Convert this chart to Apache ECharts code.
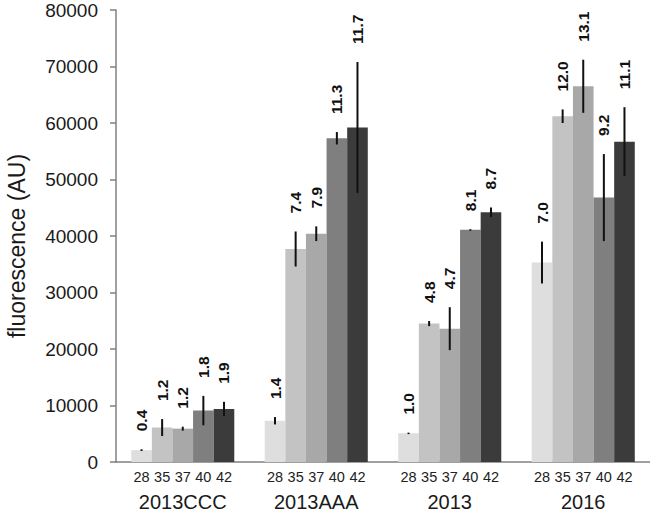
<!DOCTYPE html>
<html>
<head>
<meta charset="utf-8">
<script src="https://cdn.jsdelivr.net/npm/echarts@6/dist/echarts.min.js"></script>
<style>
html,body{margin:0;padding:0;background:#fff;}
#chart{width:650px;height:512px;}
</style>
</head>
<body>
<div id="chart"></div>
<script>
// ---- data ----
const groups = ['2013CCC', '2013AAA', '2013', '2016'];
const temps = ['28', '35', '37', '40', '42'];

const mean28 = [2100, 7300, 5100, 35300];
const mean35 = [6100, 37700, 24500, 61200];
const mean37 = [5900, 40400, 23600, 66500];
const mean40 = [9100, 57300, 41100, 46800];
const mean42 = [9400, 59200, 44200, 56700];

const err28 = [150, 650, 100, 3700];
const err35 = [1500, 3100, 450, 1200];
const err37 = [350, 1300, 3800, 4700];
const err40 = [2600, 1100, 100, 7700];
const err42 = [1250, 11600, 850, 6100];

const lab28 = ['0.4', '1.4', '1.0', '7.0'];
const lab35 = ['1.2', '7.4', '4.8', '12.0'];
const lab37 = ['1.2', '7.9', '4.7', '13.1'];
const lab40 = ['1.8', '11.3', '8.1', '9.2'];
const lab42 = ['1.9', '11.7', '8.7', '11.1'];

const yTicks = [0, 10000, 20000, 30000, 40000, 50000, 60000, 70000, 80000];

// ---- build ----
const means = [mean28, mean35, mean37, mean40, mean42];
const errs = [err28, err35, err37, err40, err42];
const labs = [lab28, lab35, lab37, lab40, lab42];
const colors = ['#dedede', '#c3c3c3', '#a8a8a8', '#7f7f7f', '#3b3b3b'];
const CAT_GAP = 0.228;
const FONT = '"Liberation Sans", Arial, sans-serif';

function buildSeries(pxPerUnit) {
  const series = [];
  temps.forEach((t, i) => {
    series.push({
      type: 'bar',
      name: t,
      barGap: '0%',
      barCategoryGap: (CAT_GAP * 100) + '%',
      itemStyle: { color: colors[i] },
      z: 2,
      label: {
        show: pxPerUnit > 0,
        position: 'top',
        rotate: 90,
        align: 'left',
        verticalAlign: 'middle',
        fontFamily: FONT,
        fontWeight: 'bold',
        fontSize: 15.5,
        color: '#111',
        offset: [1, 0]
      },
      data: means[i].map((m, k) => ({
        value: m,
        label: {
          formatter: labs[i][k],
          distance: errs[i][k] * pxPerUnit + 17
        }
      }))
    });
  });
  temps.forEach((t, i) => {
    series.push({
      type: 'custom',
      name: 'err' + t,
      z: 5,
      clip: false,
      data: groups.map((g, k) => [k, means[i][k], errs[i][k]]),
      encode: { x: 0, y: 1 },
      renderItem: function (params, api) {
        const k = api.value(0);
        const m = api.value(1);
        const e = api.value(2);
        const band = api.size([1, 0])[0];
        const barW = band * (1 - CAT_GAP) / 5;
        const cx = api.coord([k, 0])[0] + (i - 2) * barW;
        const base = api.coord([k, 0])[1];
        const yTop = api.coord([k, m + e])[1];
        const yBot = api.coord([k, m - e])[1];
        return {
          type: 'group',
          children: [
            {
              type: 'line',
              shape: { x1: cx, y1: yTop, x2: cx, y2: Math.max(yBot, yTop + 1.5) },
              style: { stroke: '#111', lineWidth: 2 }
            },
            {
              type: 'text',
              x: cx,
              y: base + 15,
              style: {
                text: t,
                font: '14.5px ' + FONT,
                fill: '#222',
                align: 'center',
                verticalAlign: 'middle'
              }
            }
          ]
        };
      }
    });
  });
  return series;
}

const chart = echarts.init(document.getElementById('chart'), null, { renderer: 'svg' });
const baseOption = {
  backgroundColor: '#fff',
  animation: false,
  grid: { left: 116, right: 0, top: 10, bottom: 50, containLabel: false, outerBoundsMode: 'none' },
  xAxis: {
    type: 'category',
    data: groups,
    axisLine: { show: true, lineStyle: { color: '#808080', width: 1.5 } },
    axisTick: { show: false },
    axisLabel: { margin: 29.5, fontSize: 20, lineHeight: 20, color: '#1a1a1a', fontFamily: FONT },
    splitLine: { show: false }
  },
  yAxis: {
    type: 'value',
    min: 0,
    max: 80000,
    interval: 10000,
    name: 'fluorescence (AU)',
    nameLocation: 'middle',
    nameGap: 88,
    nameTextStyle: {
      fontSize: 23,
      lineHeight: 22,
      color: '#1a1a1a',
      fontFamily: FONT,
      padding: [0, 20, 0, 0]
    },
    axisLine: { show: true, lineStyle: { color: '#808080', width: 1.5 } },
    axisTick: { show: true, inside: false, length: 6, lineStyle: { color: '#808080', width: 1.5 } },
    axisLabel: {
      margin: 18,
      fontSize: 19,
      lineHeight: 19,
      color: '#1a1a1a',
      fontFamily: FONT,
      formatter: function (v) { return yTicks.indexOf(v) >= 0 ? String(v) : ''; }
    },
    splitLine: { show: false }
  },
  series: buildSeries(0)
};
chart.setOption(baseOption);
const p0 = chart.convertToPixel({ yAxisIndex: 0 }, 0);
const p1 = chart.convertToPixel({ yAxisIndex: 0 }, 10000);
const pxPerUnit = (p0 - p1) / 10000;
chart.setOption({ series: buildSeries(pxPerUnit) });
</script>
</body>
</html>
